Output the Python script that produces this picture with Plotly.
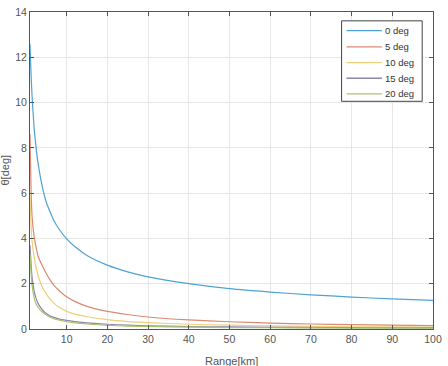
import plotly.graph_objects as go

range_km = [1, 1.25, 1.5, 2, 2.5, 3, 4, 5, 6, 7, 8, 10, 12, 15, 20, 25, 30, 40, 50, 60, 70, 80, 90, 100]

deg0 = [12.6, 11.3, 10.3, 8.9, 8.0, 7.3, 6.3, 5.6, 5.15, 4.75, 4.45, 3.98, 3.64, 3.25, 2.82, 2.52, 2.30, 2.0, 1.78, 1.63, 1.51, 1.41, 1.33, 1.26]
deg5 = [8.6, 6.2, 5.0, 4.1, 3.6, 3.2, 2.8, 2.45, 2.15, 1.9, 1.72, 1.42, 1.22, 1.0, 0.78, 0.64, 0.53, 0.4, 0.32, 0.26, 0.22, 0.19, 0.17, 0.15]
deg10 = [6.0, 4.6, 3.9, 3.2, 2.7, 2.35, 1.85, 1.55, 1.3, 1.12, 0.98, 0.78, 0.66, 0.54, 0.41, 0.33, 0.28, 0.21, 0.17, 0.14, 0.12, 0.10, 0.09, 0.08]
deg15 = [3.7, 2.9, 2.3, 1.7, 1.35, 1.12, 0.85, 0.68, 0.57, 0.5, 0.45, 0.38, 0.33, 0.27, 0.21, 0.17, 0.14, 0.11, 0.09, 0.075, 0.065, 0.058, 0.052, 0.047]
deg20 = [3.3, 2.5, 1.95, 1.4, 1.1, 0.95, 0.75, 0.62, 0.52, 0.45, 0.4, 0.32, 0.27, 0.22, 0.16, 0.13, 0.11, 0.08, 0.065, 0.055, 0.047, 0.041, 0.037, 0.033]

names = ["0 deg", "5 deg", "10 deg", "15 deg", "20 deg"]
series = [deg0, deg5, deg10, deg15, deg20]
colors = ["#4ea3d4", "#d98a72", "#eccf78", "#8f86a8", "#a9c46e"]

x_ticks = [10, 20, 30, 40, 50, 60, 70, 80, 90, 100]
y_ticks = [0, 2, 4, 6, 8, 10, 12, 14]

FONT = "Liberation Sans, Arial, sans-serif"

# plot-area geometry (pixels) used to place the compact legend
W, H = 448, 366
ML, MR, MT, MB = 30, 8, 6, 37
PW, PH = W - ML - MR, H - MT - MB


def px(x):
    return (x - ML) / PW


def py(y):
    return (H - MB - y) / PH


fig = go.Figure()
for n, s, c in zip(names, series, colors):
    fig.add_trace(go.Scatter(x=range_km, y=s, mode="lines", name=n, showlegend=False,
                             line=dict(color=c, width=1.2, shape="spline", smoothing=0.6)))

axis_common = dict(
    showline=True, linecolor="#555555", linewidth=1, mirror="ticks",
    ticks="inside", ticklen=4, tickcolor="#555555",
    showgrid=True, gridcolor="#e6e6e6", gridwidth=1, zeroline=False,
    tickfont=dict(family=FONT, size=10.5, color="#555555"),
    ticklabeloverflow="allow",
)

shapes = [dict(type="rect", xref="paper", yref="paper",
               x0=px(347), x1=px(429), y0=py(97), y1=py(15),
               line=dict(color="#444444", width=1), fillcolor="white", layer="above")]
annotations = []
row_y = [25, 41.5, 57.5, 73.5, 89.5]
for n, c, yy in zip(names, colors, row_y):
    shapes.append(dict(type="line", xref="paper", yref="paper",
                       x0=px(352), x1=px(388), y0=py(yy), y1=py(yy),
                       line=dict(color=c, width=1.3), layer="above"))
    annotations.append(dict(text=n, xref="paper", yref="paper", x=px(389), y=py(yy),
                            xanchor="left", yanchor="middle", showarrow=False,
                            font=dict(family=FONT, size=9.5, color="#333333")))

annotations += [
    dict(text="Range[km]", xref="paper", yref="paper", x=0.5, y=0, yshift=-24,
         xanchor="center", yanchor="top", showarrow=False,
         font=dict(family=FONT, size=11, color="#555555")),
    dict(text="θ[deg]", xref="paper", yref="paper", x=0, xshift=-26, y=0.5,
         xanchor="center", yanchor="middle", showarrow=False, textangle=-90,
         font=dict(family=FONT, size=11, color="#555555")),
]

fig.update_layout(
    width=W, height=H,
    margin=dict(l=ML, r=MR, t=MT, b=MB),
    paper_bgcolor="white", plot_bgcolor="white",
    xaxis=dict(range=[1, 100.0001], tickvals=x_ticks, **axis_common),
    yaxis=dict(range=[0, 14], tickvals=y_ticks, **axis_common),
    showlegend=False,
    shapes=shapes,
    annotations=annotations,
)

fig.write_html("out.html")
